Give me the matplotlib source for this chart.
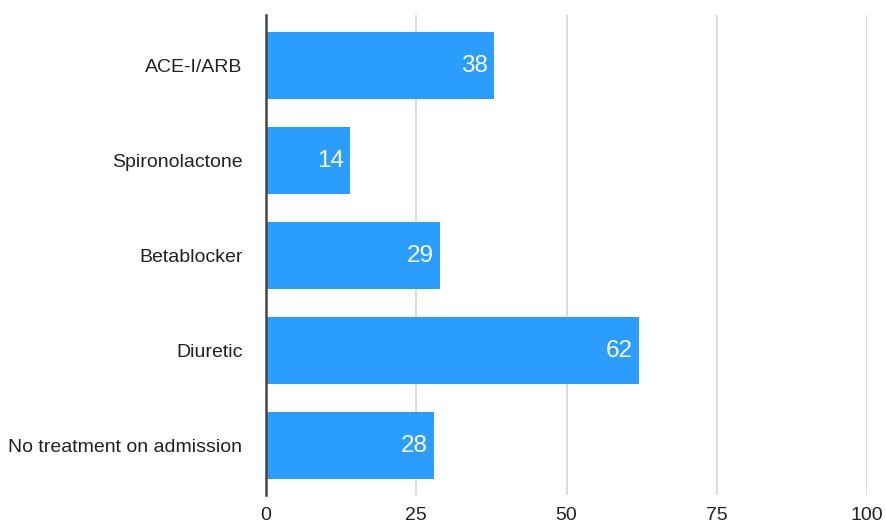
import matplotlib
matplotlib.use("Agg")
import matplotlib.pyplot as plt

categories = ["ACE-I/ARB", "Spironolactone", "Betablocker", "Diuretic", "No treatment on admission"]
values = [38, 14, 29, 62, 28]
x_ticks = [0, 25, 50, 75, 100]

plt.rcParams["font.family"] = ["Liberation Sans", "DejaVu Sans"]

fig = plt.figure(figsize=(8.86, 5.25), dpi=100)
ax = fig.add_axes([266 / 886, 1 - 495 / 525, (867 - 266) / 886, 480 / 525])

pos = list(range(len(categories)))
ax.barh(pos, values, height=0.705, color="#2A9DFF", zorder=3)

for p, v in zip(pos, values):
    ax.annotate(str(v), xy=(v, p), xytext=(-4.5, 0), textcoords="offset points",
                ha="right", va="center", color="white", fontsize=17.5, zorder=4)

ax.set_xlim(0, 100)
ax.set_ylim(4.516, -0.531)
ax.set_yticks(pos)
ax.set_yticklabels(categories, fontsize=14, color="#222222")
ax.set_xticks(x_ticks)
ax.set_xticklabels([str(t) for t in x_ticks], fontsize=14, color="#222222")
ax.tick_params(axis="both", length=0)
ax.tick_params(axis="y", pad=17)
ax.tick_params(axis="x", pad=9)

for t in x_ticks[1:]:
    ax.axvline(t, color="#d9d9d9", lw=1.3, zorder=1)

for s in ["top", "right", "bottom"]:
    ax.spines[s].set_visible(False)
ax.spines["left"].set_color("#444444")
ax.spines["left"].set_linewidth(1.8)
ax.spines["left"].set_zorder(5)

fig.savefig("out.png", dpi=100, facecolor="white")
